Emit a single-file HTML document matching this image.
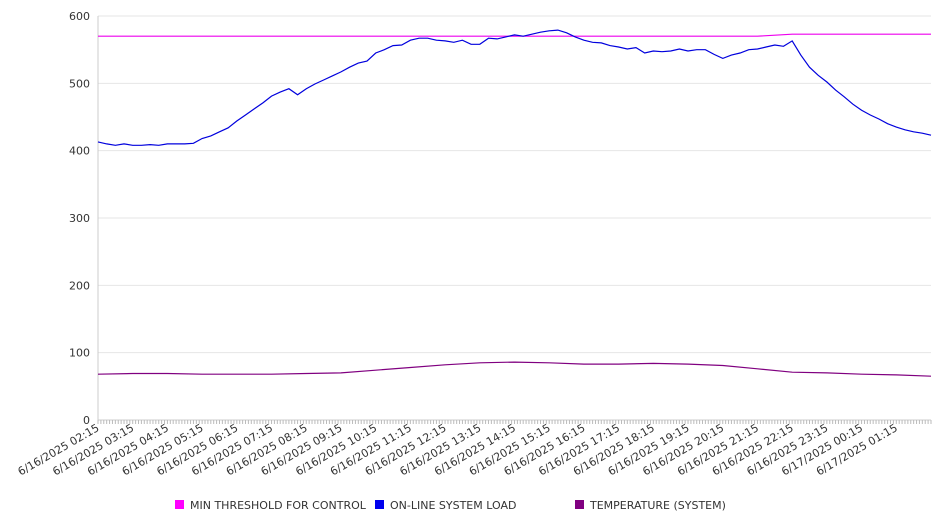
<!DOCTYPE html>
<html><head><meta charset="utf-8"><style>
body{margin:0;background:#fff}
svg text{font-family:"DejaVu Sans","Liberation Sans",sans-serif;font-size:11px;fill:#333}
</style></head><body>
<svg id="chart" width="946" height="526" xmlns="http://www.w3.org/2000/svg">
<g id="grid"></g>
<g id="axes"></g>
<g id="series"></g>
<g id="legend">
<rect x="175" y="500" width="9" height="9" fill="#ff00ff"/>
<text x="190" y="509">MIN THRESHOLD FOR CONTROL</text>
<rect x="375" y="500" width="9" height="9" fill="#0000ee"/>
<text x="390" y="509">ON-LINE SYSTEM LOAD</text>
<rect x="575" y="500" width="9" height="9" fill="#800080"/>
<text x="590" y="509">TEMPERATURE (SYSTEM)</text>
</g>
</svg>
<script>
const hourLabels=["6/16/2025 02:15","6/16/2025 03:15","6/16/2025 04:15","6/16/2025 05:15","6/16/2025 06:15","6/16/2025 07:15","6/16/2025 08:15","6/16/2025 09:15","6/16/2025 10:15","6/16/2025 11:15","6/16/2025 12:15","6/16/2025 13:15","6/16/2025 14:15","6/16/2025 15:15","6/16/2025 16:15","6/16/2025 17:15","6/16/2025 18:15","6/16/2025 19:15","6/16/2025 20:15","6/16/2025 21:15","6/16/2025 22:15","6/16/2025 23:15","6/17/2025 00:15","6/17/2025 01:15"];
const yTicks=[0,100,200,300,400,500,600];
// load, every 15 minutes from 02:15
const loadValues=[413,410,408,410,408,408,409,408,410,410,410,411,418,422,428,434,444,453,462,471,481,487,492,483,492,499,505,511,517,524,530,533,545,550,556,557,564,567,567,564,563,561,564,558,558,567,566,569,572,570,573,576,578,579,575,569,564,561,560,556,554,551,553,545,548,547,548,551,548,550,550,543,537,542,545,550,551,554,557,555,563,542,524,512,502,490,480,469,460,453,447,440,435,431,428,426,423];
// temperature, hourly from 02:15
const tempValues=[68,69,69,68,68,68,69,70,74,78,82,85,86,85,83,83,84,83,81,76,71,70,68,67,65];
// threshold, hourly from 02:15
const thresholdValues=[570,570,570,570,570,570,570,570,570,570,570,570,570,570,570,570,570,570,570,570,573,573,573,573,573];

const NS="http://www.w3.org/2000/svg";
const X0=98,X1=931,Y0=420,Y1=16,HOURS=24,YMAX=600;
const xH=h=>X0+(X1-X0)*h/HOURS;
const y=v=>Y0-(Y0-Y1)*v/YMAX;
function mk(tag,attrs,parent){const e=document.createElementNS(NS,tag);for(const k in attrs)e.setAttribute(k,attrs[k]);parent.appendChild(e);return e;}
const grid=document.getElementById('grid'),axes=document.getElementById('axes'),series=document.getElementById('series');
yTicks.forEach(t=>{
  const l=mk('line',{x1:X0,x2:X1,y1:y(t),y2:y(t),stroke:t===0?'#ccc':'#e6e6e6'},grid);
  
  
  const tx=mk('text',{x:90,y:y(t)+4,'text-anchor':'end'},axes);tx.textContent=t;
  
  
});
const ya=mk('line',{x1:X0,x2:X0,y1:Y1,y2:Y0,stroke:'#ccc'},axes);


for(let i=0;i<=HOURS*12;i++){
  const x=xH(i/12);
  const tk=mk('line',{x1:x,x2:x,y1:Y0,y2:Y0+4,stroke:'#bbb'},axes);
  
  
}
hourLabels.forEach((lab,i)=>{
  const x=xH(i)+2,yy=Y0+10;
  const t=mk('text',{x:x,y:yy,'text-anchor':'end',transform:`rotate(-30 ${x} ${yy})`},axes);
  t.textContent=lab;
  
  
});
function line(vals,stepH,color,name){
  const pts=vals.map((v,i)=>xH(i*stepH).toFixed(1)+','+y(v).toFixed(1)).join(' ');
  const p=mk('polyline',{points:pts,fill:'none',stroke:color,'stroke-width':1.2},series);
  
  
}
line(thresholdValues,1,'#ee00ee','threshold-line');
line(tempValues,1,'#800080','temperature-line');
line(loadValues,0.25,'#0000dd','load-line');
</script>
</body></html>
